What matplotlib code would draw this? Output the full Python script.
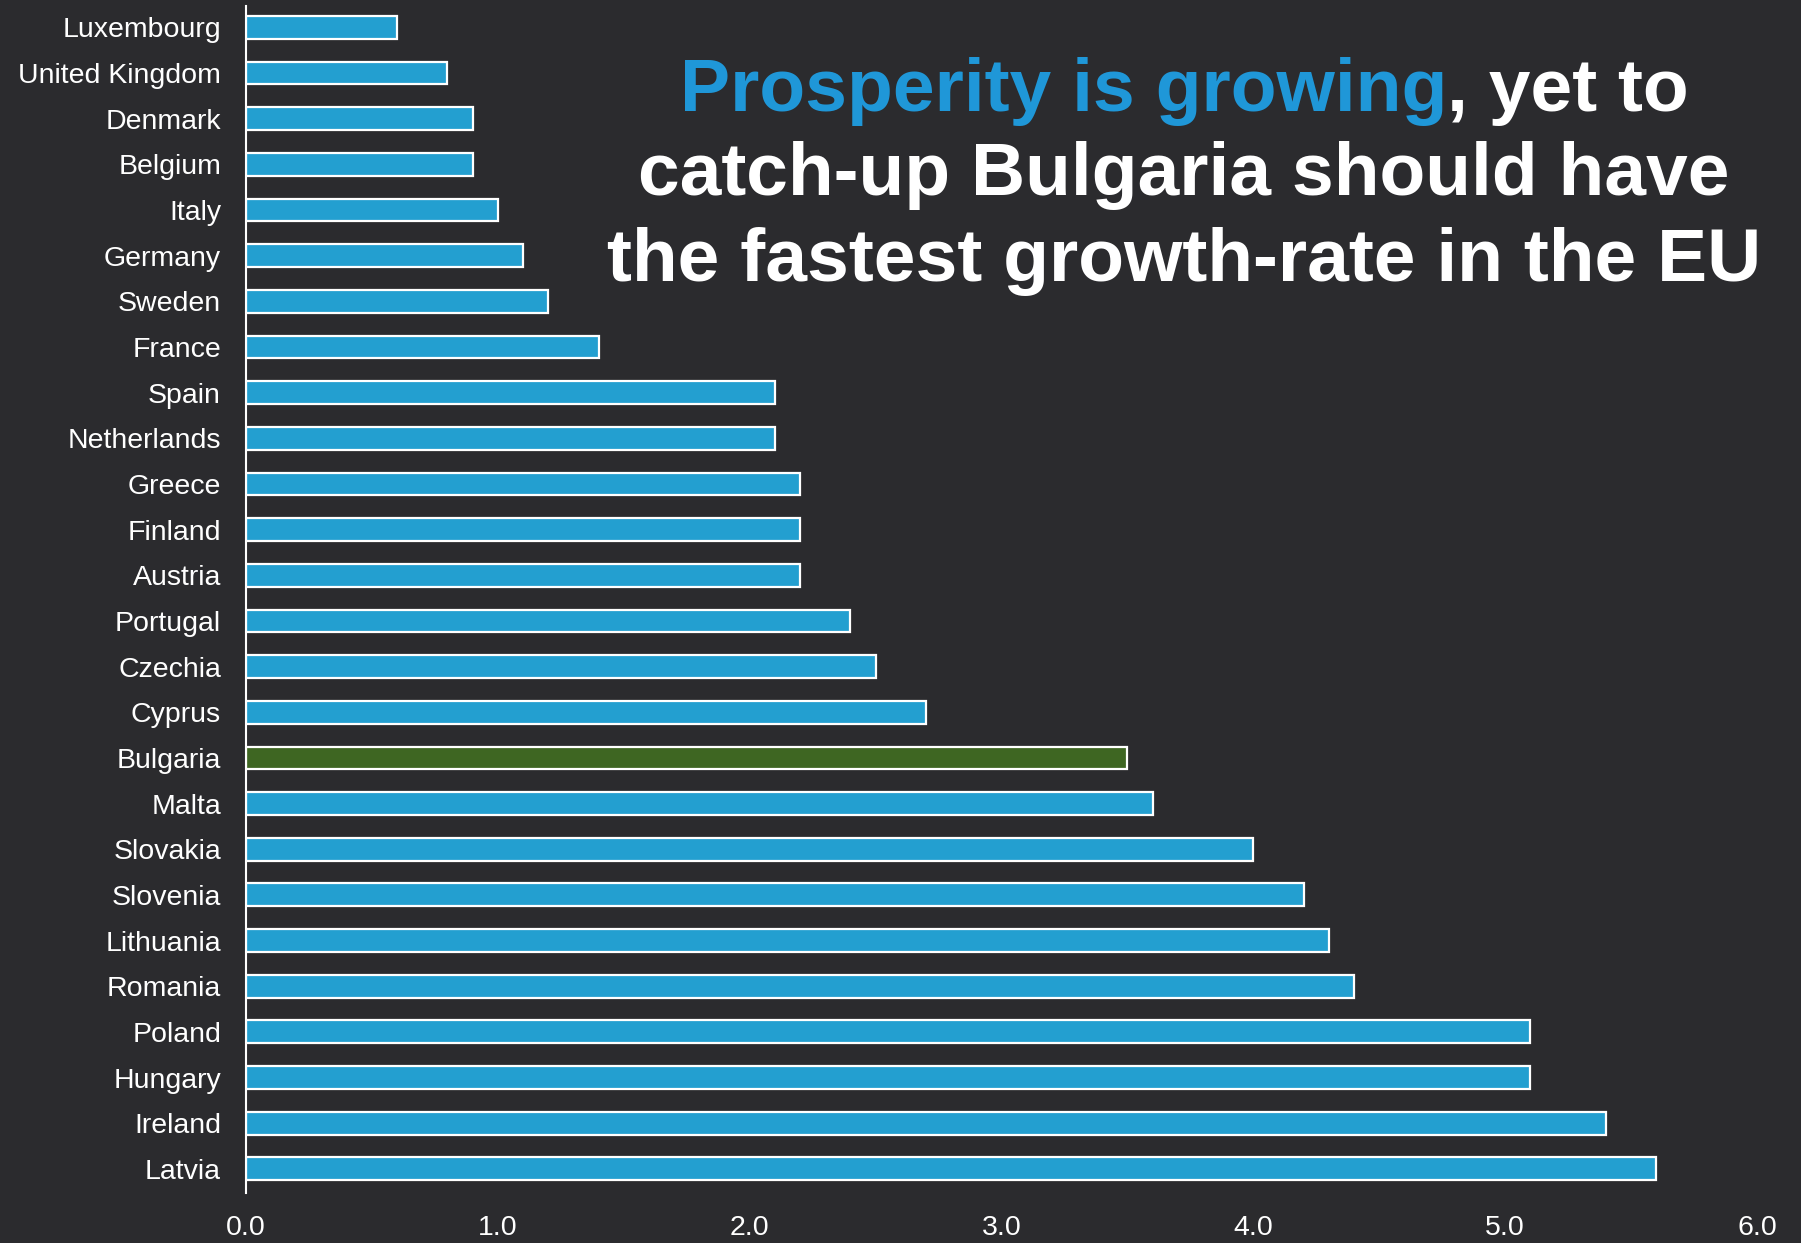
import matplotlib
matplotlib.use("Agg")
import matplotlib.pyplot as plt

countries = ["Luxembourg", "United Kingdom", "Denmark", "Belgium", "Italy", "Germany",
             "Sweden", "France", "Spain", "Netherlands", "Greece", "Finland", "Austria",
             "Portugal", "Czechia", "Cyprus", "Bulgaria", "Malta", "Slovakia", "Slovenia",
             "Lithuania", "Romania", "Poland", "Hungary", "Ireland", "Latvia"]
growth = [0.6, 0.8, 0.9, 0.9, 1.0, 1.1, 1.2, 1.4, 2.1, 2.1, 2.2, 2.2, 2.2, 2.4, 2.5, 2.7,
          3.5, 3.6, 4.0, 4.2, 4.3, 4.4, 5.1, 5.1, 5.4, 5.6]
highlight = "Bulgaria"
xticks = [0, 1, 2, 3, 4, 5, 6]

bg = "#2b2b2e"
blue = "#239fd0"
green = "#3e6622"
title_blue = "#1f97d8"

plt.rcParams["font.family"] = ["Liberation Sans", "DejaVu Sans"]

fig = plt.figure(figsize=(18.01, 12.43), dpi=100, facecolor=bg)
ax = fig.add_axes([0.1366, 0.0402, 0.839, 0.955])
ax.set_facecolor(bg)

colors = [green if c == highlight else blue for c in countries]
ypos = list(range(len(countries)))
ax.barh(ypos, growth, height=0.5, color=colors, edgecolor="white", linewidth=1.6)

ax.set_ylim(len(countries) - 0.47, -0.47)
ax.set_xlim(0, 6)
ax.set_yticks(ypos)
ax.set_yticklabels(countries)
ax.set_xticks(xticks)
ax.set_xticklabels([f"{t:.1f}" for t in xticks])
ax.tick_params(axis="y", length=0, pad=18, labelsize=20.5, labelcolor="white")
ax.tick_params(axis="x", length=0, pad=16, labelsize=20.5, labelcolor="white")
for s in ["top", "right", "bottom"]:
    ax.spines[s].set_visible(False)
ax.spines["left"].set_color("white")
ax.spines["left"].set_linewidth(1.5)

# title, first line in two colours
cx = 1184 / 1801
tsize = 54
part1 = fig.text(0, 0, "Prosperity is growing", color=title_blue, fontsize=tsize,
                 fontweight="bold", va="center")
part2 = fig.text(0, 0, ", yet to", color="white", fontsize=tsize,
                 fontweight="bold", va="center")
fig.canvas.draw()
r = fig.canvas.get_renderer()
w1 = part1.get_window_extent(r).width / fig.bbox.width
w2 = part2.get_window_extent(r).width / fig.bbox.width
y1 = 1 - 92 / 1243
start = cx - (w1 + w2) / 2
part1.set_position((start, y1))
part2.set_position((start + w1, y1))
fig.text(cx, 1 - 176 / 1243, "catch-up Bulgaria should have", color="white",
         fontsize=tsize, fontweight="bold", ha="center", va="center")
fig.text(cx, 1 - 261 / 1243, "the fastest growth-rate in the EU", color="white",
         fontsize=tsize, fontweight="bold", ha="center", va="center")

fig.savefig("out.png", dpi=100, facecolor=bg)
